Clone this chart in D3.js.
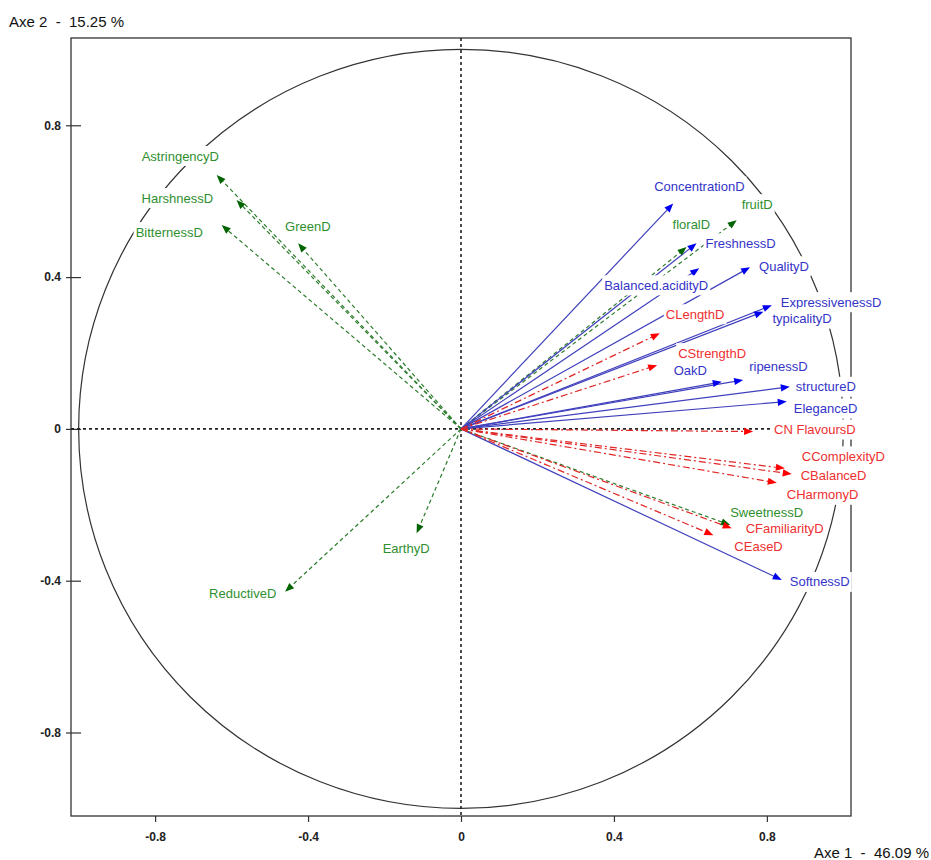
<!DOCTYPE html>
<html>
<head>
<meta charset="utf-8">
<script src="https://cdn.jsdelivr.net/npm/d3@7"></script>
<style>
  body { margin: 0; background: white; }
  svg { display: block; font-family: "Liberation Sans", Arial, sans-serif; }
</style>
</head>
<body>
<svg id="chart" width="931" height="860"></svg>
<script>
const WIDTH = 931
const HEIGHT = 860

//Variable names, grouped like the picture (green = sensory dashed, blue = solid, red = consumer dash-dot)
const greenNames = ['AstringencyD','HarshnessD','BitternessD','GreenD','EarthyD','ReductiveD','fruitD','floralD','SweetnessD']
const greenAxe1  = [-0.639, -0.587, -0.626, -0.426, -0.116, -0.460, 0.721, 0.590, 0.704]
const greenAxe2  = [ 0.669,  0.603,  0.537,  0.489, -0.275, -0.429, 0.550, 0.479, -0.253]

const blueNames = ['ConcentrationD','FreshnessD','Balanced.acidityD','QualityD','ExpressivenessD','typicalityD','OakD','ripenessD','structureD','EleganceD','SoftnessD']
const blueAxe1  = [0.555, 0.616, 0.623, 0.756, 0.813, 0.791, 0.682, 0.738, 0.860, 0.852, 0.839]
const blueAxe2  = [0.594, 0.489, 0.423, 0.426, 0.326, 0.309, 0.124, 0.129, 0.111, 0.072, -0.398]

const redNames = ['CLengthD','CStrengthD','CN FlavoursD','CComplexityD','CBalanceD','CHarmonyD','CFamiliarityD','CEaseD']
const redAxe1  = [0.520, 0.513, 0.764, 0.847, 0.865, 0.826, 0.708, 0.660]
const redAxe2  = [0.252, 0.168, -0.007, -0.104, -0.119, -0.142, -0.262, -0.280]

const TICKS = [-0.8, -0.4, 0, 0.4, 0.8]
const AXE1_TITLE = 'Axe 1  -  46.09 %'
const AXE2_TITLE = 'Axe 2  -  15.25 %'

//Label nudges in px from the arrow tip (left edge, vertical middle of text)
const LABEL_NUDGE = {
  'AstringencyD':[-75,-19], 'HarshnessD':[-95,-2], 'BitternessD':[-86,7], 'GreenD':[-13,-17],
  'EarthyD':[-34,15], 'ReductiveD':[-76,2], 'fruitD':[5,-16], 'floralD':[-14,-23], 'SweetnessD':[0,-12],
  'ConcentrationD':[-19,-17], 'FreshnessD':[9,0], 'Balanced.acidityD':[-95,17], 'QualityD':[9,-1],
  'ExpressivenessD':[9,-3], 'typicalityD':[9,7], 'OakD':[-48,-11], 'ripenessD':[6,-13],
  'structureD':[6,0], 'EleganceD':[7,7], 'SoftnessD':[8,2],
  'CLengthD':[6,-19], 'CStrengthD':[21,-12], 'CN FlavoursD':[21,-2], 'CComplexityD':[17,-12],
  'CBalanceD':[9,1], 'CHarmonyD':[10,12], 'CFamiliarityD':[14,0], 'CEaseD':[21,11]
}

const GROUPS = [
  {names: greenNames, ax1: greenAxe1, ax2: greenAxe2, line: '#2e7d2e', head: '#006400', text: '#2f8f2f', dash: '4,3', width: 1.2},
  {names: blueNames,  ax1: blueAxe1,  ax2: blueAxe2,  line: '#4040bd', head: '#0000ee', text: '#3434c8', dash: null, width: 1.2},
  {names: redNames,   ax1: redAxe1,   ax2: redAxe2,   line: '#e02626', head: '#ff0000', text: '#ee3030', dash: '7,3,2,3', width: 1.2}
]

//Plain hyphen minus like the original software
const tickFmt = d => d == 0 ? '0' : d.toFixed(1)

const svg = d3.select('#chart')

const x = d3.scaleLinear().domain([-1.02, 1.02]).range([71, 851])
const y = d3.scaleLinear().domain([-1.02, 1.03]).range([816, 38])

//Frame
svg.append('rect')
  .attr('x', x(-1.02)).attr('y', y(1.03))
  .attr('width', x(1.02) - x(-1.02)).attr('height', y(-1.02) - y(1.03))
  .attr('fill', 'none').attr('stroke', '#333').attr('stroke-width', 1.3)

//Axes with ticks
const xAxis = d3.axisBottom(x).tickValues(TICKS).tickSize(6).tickFormat(tickFmt)
const yAxis = d3.axisLeft(y).tickValues(TICKS).tickSize(5).tickFormat(tickFmt)

const gx = svg.append('g').attr('transform', `translate(0,${y(-1.02)})`).call(xAxis)
const gy = svg.append('g').attr('transform', `translate(${x(-1.02)},0)`).call(yAxis)

;[gx, gy].forEach(g => {
  g.select('.domain').remove()
  g.selectAll('line').attr('stroke', '#333').attr('stroke-width', 1.2)
  g.selectAll('text')
    .attr('fill', '#222')
    .style('font-family', '"Liberation Sans", Arial, sans-serif')
    .style('font-size', '12px')
    .style('font-weight', 'bold')
})
gx.selectAll('text').attr('dy', '1.35em')
gy.selectAll('line').attr('x2', 10).attr('x1', -5)
gy.selectAll('text').attr('x', -10)

//Correlation circle
svg.append('ellipse')
  .attr('cx', x(0)).attr('cy', y(0))
  .attr('rx', x(1) - x(0)).attr('ry', y(0) - y(1))
  .attr('fill', 'none').attr('stroke', '#333').attr('stroke-width', 1.2)

//Dotted origin lines
svg.append('line')
  .attr('x1', x(-1.02)).attr('x2', x(1.02)).attr('y1', y(0)).attr('y2', y(0))
  .attr('stroke', '#222').attr('stroke-width', 1.6).attr('stroke-dasharray', '3,3')
svg.append('line')
  .attr('x1', x(0)).attr('x2', x(0)).attr('y1', y(1.03)).attr('y2', y(-1.02))
  .attr('stroke', '#222').attr('stroke-width', 1.6).attr('stroke-dasharray', '3,3')

//Build rows from the named arrays
var rows = []
GROUPS.forEach(grp => {
  grp.names.forEach((name, i) => {
    rows.push({name: name, a1: grp.ax1[i], a2: grp.ax2[i], grp: grp})
  })
})

const HEAD_LEN = 9
const HEAD_HALF = 3.6

var arrows = svg.append('g').attr('class', 'arrows')

//Lines end where the head starts
arrows.selectAll('line.vec')
  .data(rows)
  .enter()
  .append('line')
    .attr('class', 'vec')
    .attr('x1', x(0)).attr('y1', y(0))
    .attr('x2', d => {
      let dx = x(d.a1) - x(0), dy = y(d.a2) - y(0), len = Math.hypot(dx, dy)
      return x(d.a1) - dx / len * (HEAD_LEN - 2)
    })
    .attr('y2', d => {
      let dx = x(d.a1) - x(0), dy = y(d.a2) - y(0), len = Math.hypot(dx, dy)
      return y(d.a2) - dy / len * (HEAD_LEN - 2)
    })
    .attr('stroke', d => d.grp.line)
    .attr('stroke-width', d => d.grp.width)
    .attr('stroke-dasharray', d => d.grp.dash)

//Arrow heads
arrows.selectAll('path.head')
  .data(rows)
  .enter()
  .append('path')
    .attr('class', 'head')
    .attr('d', d => {
      let tx = x(d.a1), ty = y(d.a2)
      let dx = tx - x(0), dy = ty - y(0), len = Math.hypot(dx, dy)
      let ux = dx / len, uy = dy / len
      let bx = tx - ux * HEAD_LEN, by = ty - uy * HEAD_LEN
      return `M${tx},${ty}L${bx - uy * HEAD_HALF},${by + ux * HEAD_HALF}L${bx + uy * HEAD_HALF},${by - ux * HEAD_HALF}Z`
    })
    .attr('fill', d => d.grp.head)

//Labels with white backing so they cut the lines and circle like the original
var labels = svg.append('g').attr('class', 'labels')

rows.forEach(d => {
  let nudge = LABEL_NUDGE[d.name] || [6, 0]
  let lx = x(d.a1) + nudge[0]
  let ly = y(d.a2) + nudge[1]
  let g = labels.append('g')
  let bg = g.append('rect').attr('fill', 'white')
  let t = g.append('text')
    .attr('x', lx).attr('y', ly)
    .attr('dy', '0.35em')
    .attr('fill', d.grp.text)
    .style('font-size', '13px')
    .text(d.name)
  let box = t.node().getBBox()
  bg.attr('x', box.x - 2).attr('y', ly - 10).attr('width', box.width + 4).attr('height', 20)
})

//Axis titles
svg.append('text')
  .attr('x', 9).attr('y', 27)
  .attr('fill', '#111')
  .style('font-size', '15px')
  .style('white-space', 'pre')
  .text(AXE2_TITLE)

svg.append('text')
  .attr('x', 929).attr('y', 858)
  .attr('text-anchor', 'end')
  .attr('fill', '#111')
  .style('font-size', '15px')
  .style('white-space', 'pre')
  .text(AXE1_TITLE)
</script>
</body>
</html>
